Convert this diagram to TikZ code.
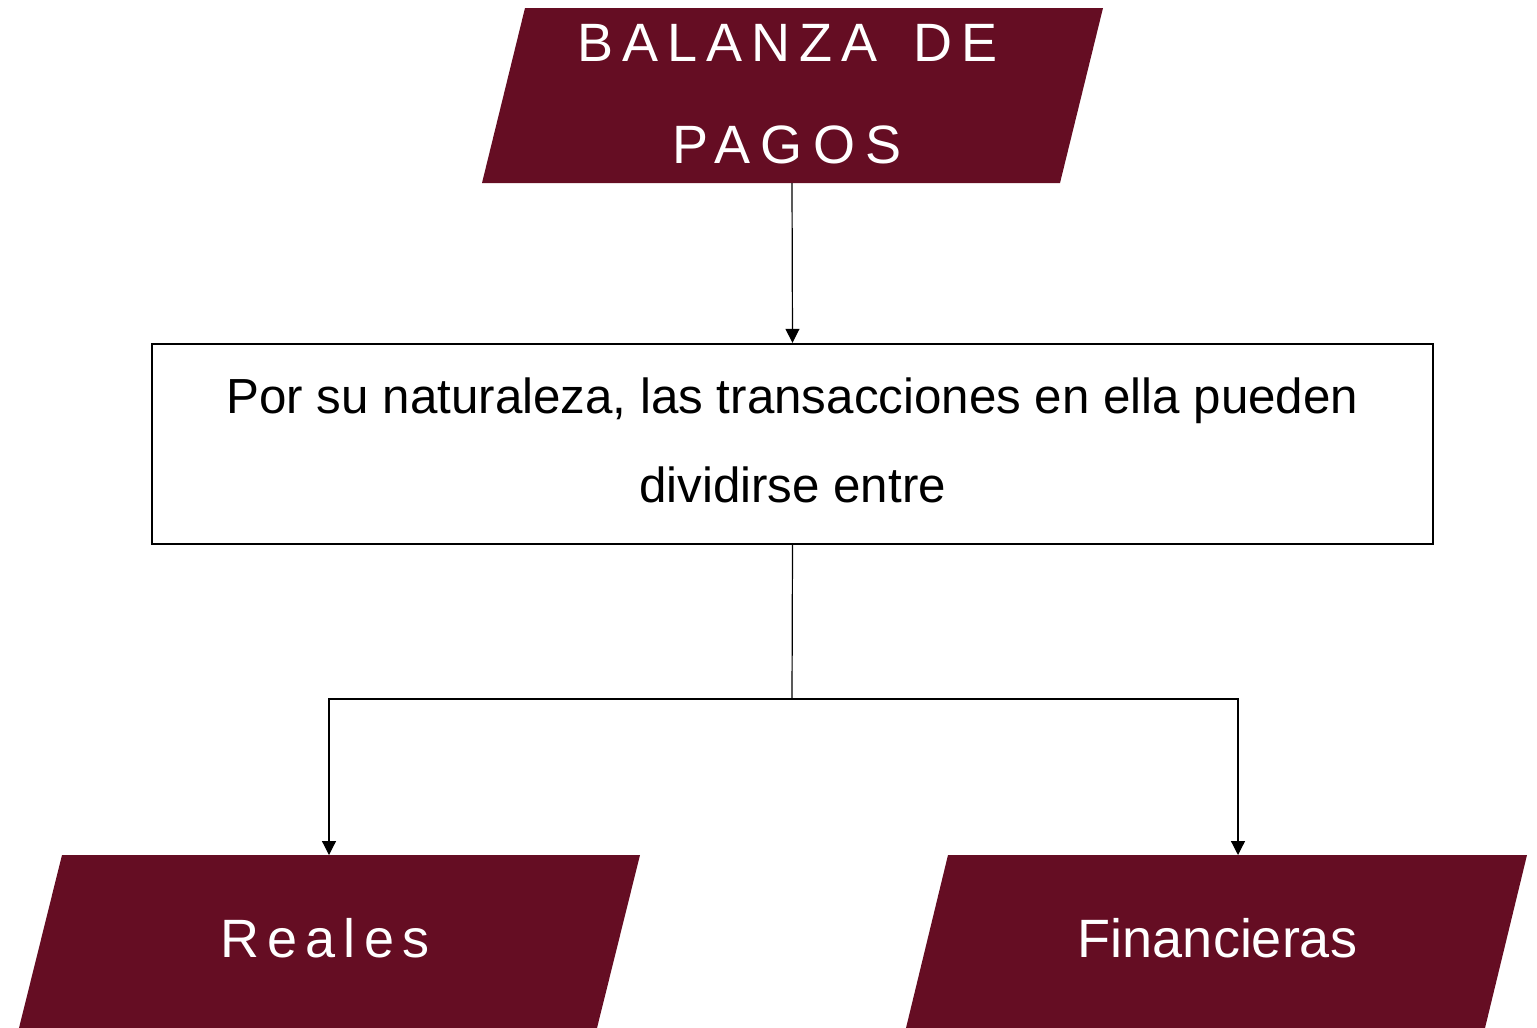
\documentclass[tikz,border=0pt]{standalone}
\usepackage{fontspec}
\setmainfont{Liberation Sans}
\usetikzlibrary{arrows.meta}
\definecolor{maroon}{HTML}{650D23}
\begin{document}
\begin{tikzpicture}[x=1pt,y=-1pt,
  shapefill/.style={fill=maroon},
  conn/.style={line width=1.2pt,-{Triangle[width=14pt,length=14pt]}},
  plainconn/.style={line width=1.2pt},
  whitetext/.style={text=white,inner sep=0pt,anchor=base},
  blacktext/.style={text=black,inner sep=0pt,anchor=base}]
\useasboundingbox (0,0) rectangle (1537,1028);
% top parallelogram
\fill[shapefill] (525,8) -- (1103,8) -- (1060,183) -- (482,183) -- cycle;
\coordinate (topB) at (792,183);
\node[whitetext] (t1) at (787.5,61) {\fontsize{54}{60}\addfontfeatures{LetterSpace=16.7}\selectfont BALANZA\hspace{12pt} DE};
\node[whitetext] (t2) at (787,163) {\fontsize{54}{60}\addfontfeatures{LetterSpace=19}\selectfont PAGOS};
% middle box
\node[draw, line width=2.4pt, minimum width=1281pt, minimum height=200pt, inner sep=0pt] (mid) at (792.5,444) {};
\node[blacktext] (m1) at (792.5,413) {\fontsize{49.3}{55}\selectfont Por su naturaleza, las transacciones en ella pueden};
\node[blacktext] (m2) at (792.5,502) {\fontsize{49.3}{55}\selectfont dividirse entre};
% bottom parallelograms
\fill[shapefill] (62,855) -- (640,855) -- (597,1028) -- (19,1028) -- cycle;
\fill[shapefill] (948,855) -- (1527,855) -- (1485,1028) -- (906,1028) -- cycle;
\coordinate (leftT) at (329,855);
\coordinate (rightT) at (1238,855);
\node[whitetext] (r) at (325,957) {\fontsize{54}{60}\addfontfeatures{LetterSpace=15}\selectfont Reales};
\node[whitetext] (f) at (1217.5,957) {\fontsize{54}{60}\selectfont Financieras};
% connectors
\coordinate (split) at (792,699);
\draw[conn] (topB) -- (mid.north);
\draw[plainconn] (mid.south) -- (split);
\draw[conn] (split) -| (leftT);
\draw[conn] (split) -| (rightT);
\end{tikzpicture}
\end{document}
